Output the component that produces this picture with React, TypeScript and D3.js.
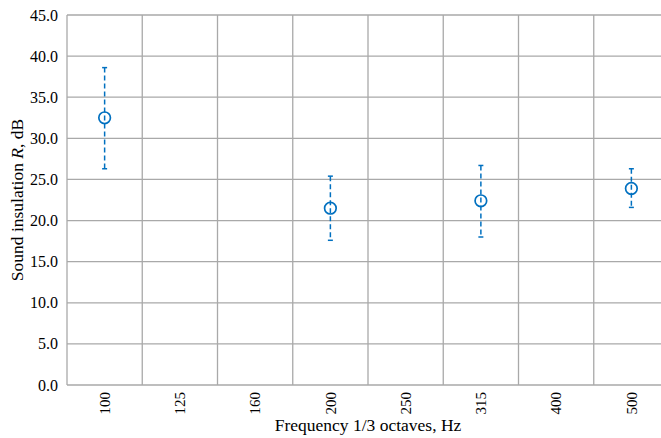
import React from "react";
import * as d3 from "d3";

const categories = ["100", "125", "160", "200", "250", "315", "400", "500"];
const pointCats = ["100", "200", "315", "500"];
const means = [32.5, 21.5, 22.4, 23.9];
const uppers = [38.6, 25.4, 26.7, 26.3];
const lowers = [26.3, 17.6, 18.0, 21.6];
const yTicks = [0, 5, 10, 15, 20, 25, 30, 35, 40, 45];

const W = 661, H = 438;
const left = 67, right = 669, top = 15, bottom = 385;
const FONT = "Liberation Serif, Times New Roman, Tinos, DejaVu Serif, serif";
const GRID = "#a9a9a9";
const BLUE = "#0070C0";

export default function App() {
  const x = d3.scaleBand<string>().domain(categories).range([left, right]);
  const y = d3.scaleLinear().domain([0, 45]).range([bottom, top]);
  const bw = x.bandwidth();
  const ts = { fontFamily: FONT } as React.CSSProperties;
  return (
    <svg width={W} height={H} style={{ position: "absolute", left: 0, top: 0, background: "#fff" }}>
      <rect x={0} y={0} width={W} height={H} fill="#fff" />
      {yTicks.map((t) => (
        <line key={"h" + t} x1={left} x2={right} y1={y(t)} y2={y(t)} stroke={GRID} strokeWidth={1.3} />
      ))}
      {categories.map((c) => (
        <line key={"v" + c} x1={(x(c) as number) + bw} x2={(x(c) as number) + bw} y1={top} y2={bottom} stroke={GRID} strokeWidth={1.3} />
      ))}
      <line x1={left} x2={left} y1={top} y2={bottom} stroke={GRID} strokeWidth={1.3} />
      {yTicks.map((t) => (
        <text key={"yl" + t} x={58} y={y(t)} dy="0.35em" textAnchor="end" style={ts} fontSize={16} fill="#000">
          {t.toFixed(1)}
        </text>
      ))}
      {categories.map((c) => {
        const cx = (x(c) as number) + bw / 2;
        return (
          <text key={"xl" + c} transform={`translate(${cx},392) rotate(-90)`} textAnchor="end" dy="0.35em" style={ts} fontSize={15} fill="#000">
            {c}
          </text>
        );
      })}
      <text x={(left + right) / 2} y={431} textAnchor="middle" style={ts} fontSize={17.5} fill="#000">
        Frequency 1/3 octaves, Hz
      </text>
      <text transform={`translate(23,${(top + bottom) / 2}) rotate(-90)`} textAnchor="middle" style={ts} fontSize={17.5} fill="#000">
        Sound insulation <tspan fontStyle="italic">R</tspan>, dB
      </text>
      {pointCats.map((c, i) => {
        const cx = (x(c) as number) + bw / 2;
        return (
          <g key={"p" + c}>
            <line x1={cx} x2={cx} y1={y(uppers[i])} y2={y(lowers[i])} stroke={BLUE} strokeWidth={1.5} strokeDasharray="5,3" />
            <line x1={cx - 2.5} x2={cx + 2.5} y1={y(uppers[i])} y2={y(uppers[i])} stroke={BLUE} strokeWidth={1.5} />
            <line x1={cx - 2.5} x2={cx + 2.5} y1={y(lowers[i])} y2={y(lowers[i])} stroke={BLUE} strokeWidth={1.5} />
            <circle cx={cx} cy={y(means[i])} r={5.8} fill="none" stroke={BLUE} strokeWidth={1.7} />
          </g>
        );
      })}
    </svg>
  );
}
